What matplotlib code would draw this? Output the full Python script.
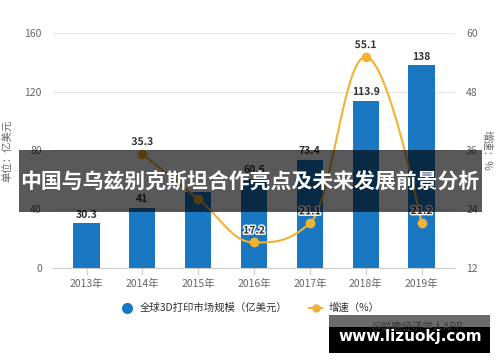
import matplotlib.pyplot as plt
from matplotlib.path import Path
from matplotlib.patches import PathPatch, Rectangle
from matplotlib.lines import Line2D
import matplotlib.patheffects as pe

plt.rcParams['font.family'] = ['Noto Sans CJK SC', 'DejaVu Sans']

# data
years = ['2013年', '2014年', '2015年', '2016年', '2017年', '2018年', '2019年']
market = [30.3, 41, 51.7, 60.6, 73.4, 113.9, 138]
market_labels = ['30.3', '41', '', '60.6', '73.4', '113.9', '138']
growth_idx = [1, 2, 3, 4, 5, 6]
growth = [35.3, 26.1, 17.2, 21.1, 55.1, 21.2]
growth_labels = ['35.3', '', '17.2', '21.1', '55.1', '21.2']

bar_color = '#1a78c2'
line_color = '#f2b233'
grey = '#666666'


def spline_path(xs, ys, smoothing=1.5):
    # highcharts style spline control points
    denom = smoothing + 1
    n = len(xs)
    lc = [(x, y) for x, y in zip(xs, ys)]
    rc = [(x, y) for x, y in zip(xs, ys)]
    for i in range(1, n - 1):
        px, py = xs[i], ys[i]
        lx, ly = xs[i - 1], ys[i - 1]
        nx, ny = xs[i + 1], ys[i + 1]
        lcx = (smoothing * px + lx) / denom
        lcy = (smoothing * py + ly) / denom
        rcx = (smoothing * px + nx) / denom
        rcy = (smoothing * py + ny) / denom
        corr = ((rcy - lcy) * (rcx - px)) / (rcx - lcx) + py - rcy
        lcy += corr
        rcy += corr
        if lcy > ly and lcy > py:
            lcy = max(ly, py)
            rcy = 2 * py - lcy
        elif lcy < ly and lcy < py:
            lcy = min(ly, py)
            rcy = 2 * py - lcy
        if rcy > ny and rcy > py:
            rcy = max(ny, py)
            lcy = 2 * py - rcy
        elif rcy < ny and rcy < py:
            rcy = min(ny, py)
            lcy = 2 * py - rcy
        lc[i] = (lcx, lcy)
        rc[i] = (rcx, rcy)
    verts = [(xs[0], ys[0])]
    codes = [Path.MOVETO]
    for i in range(1, n):
        verts += [rc[i - 1], lc[i], (xs[i], ys[i])]
        codes += [Path.CURVE4] * 3
    return Path(verts, codes)


fig = plt.figure(figsize=(5, 3.62), dpi=100)
ax = fig.add_axes([0.106, 0.26, 0.804, 0.649])
x = list(range(len(years)))

ax.bar(x, market, width=0.47, color=bar_color, zorder=2)
for xi, v, lab in zip(x, market, market_labels):
    if lab:
        ax.text(xi, v + 2.5, lab, ha='center', va='bottom', fontsize=7.5,
                fontweight='bold', color='#333333', zorder=5)

ax.set_xlim(-0.6, 6.6)
ax.set_ylim(0, 160)
ax.set_yticks([0, 40, 80, 120, 160])
ax.set_xticks(x)
ax.set_xticklabels(years)
ax.grid(axis='y', color='#e6e6e6', linewidth=0.8, zorder=0)
ax.set_axisbelow(True)
for s in ['top', 'right', 'left']:
    ax.spines[s].set_visible(False)
ax.spines['bottom'].set_color('#cccccc')
ax.tick_params(axis='x', colors='#cccccc', length=5, labelcolor=grey, labelsize=7.5, pad=3)
ax.tick_params(axis='y', length=0, labelcolor=grey, labelsize=7.5, pad=8)
ax.set_ylabel('单位：亿美元', fontsize=7.5, color=grey, labelpad=8)

ax2 = ax.twinx()
ax2.set_ylim(12, 60)
ax2.set_yticks([12, 24, 36, 48, 60])
for s in ax2.spines.values():
    s.set_visible(False)
ax2.tick_params(axis='y', length=0, labelcolor=grey, labelsize=7.5, pad=8)
ax2.set_ylabel('增速：%', fontsize=7.5, color=grey, rotation=270, labelpad=10)

path = spline_path(growth_idx, growth)
ax2.add_patch(PathPatch(path, facecolor='none', edgecolor=line_color, lw=1.5, zorder=3))
ax2.plot(growth_idx, growth, 'o', color=line_color, markersize=6, zorder=4)
for xi, v, lab in zip(growth_idx, growth, growth_labels):
    if lab:
        ax2.text(xi, v + 1.4, lab, ha='center', va='bottom', fontsize=7.5,
                 fontweight='bold', color='#333333', zorder=5,
                 path_effects=[pe.withStroke(linewidth=2, foreground='white')])

# legend
h1 = Line2D([], [], marker='o', linestyle='none', color=bar_color, markersize=7)
h2 = Line2D([], [], marker='o', color=line_color, lw=1.5, markersize=5)
fig.legend([h1, h2], ['全球3D打印市场规模（亿美元）', '增速（%）'], ncol=2,
           loc='center', bbox_to_anchor=(0.5, 1 - 308 / 362), frameon=False,
           fontsize=7.5, handlelength=1.3, columnspacing=2, handletextpad=0.6,
           labelcolor='#333333')

# banner overlay
fig.add_artist(Rectangle((19 / 500, 1 - 212 / 362), 463 / 500, 62 / 362,
                         transform=fig.transFigure, facecolor='black', alpha=0.65,
                         edgecolor='none', zorder=10))
fig.text(0.5, 1 - 182 / 362, '中国与乌兹别克斯坦合作亮点及未来发展前景分析',
         ha='center', va='center', fontsize=15, fontweight='bold', color='white', zorder=11)

# watermark box
fig.add_artist(Rectangle((329 / 500, 1 - 327 / 362), 161 / 500, 12 / 362,
                         transform=fig.transFigure, facecolor='#6b6b6b',
                         edgecolor='none', zorder=10))
fig.add_artist(Rectangle((329 / 500, 1 - 353 / 362), 161 / 500, 26 / 362,
                         transform=fig.transFigure, facecolor='black',
                         edgecolor='none', zorder=10))
fig.text(417 / 500, 1 - 326 / 362, '@前瞻经济学人APP', ha='center', va='center',
         fontsize=7.5, color='#3a3a3a', zorder=11)
fig.text(410 / 500, 1 - 337 / 362, 'www.lizuokj.com', ha='center', va='center',
         fontsize=11, fontweight='bold', color='white', family='DejaVu Sans', zorder=12)

fig.savefig('out.png', dpi=100)
